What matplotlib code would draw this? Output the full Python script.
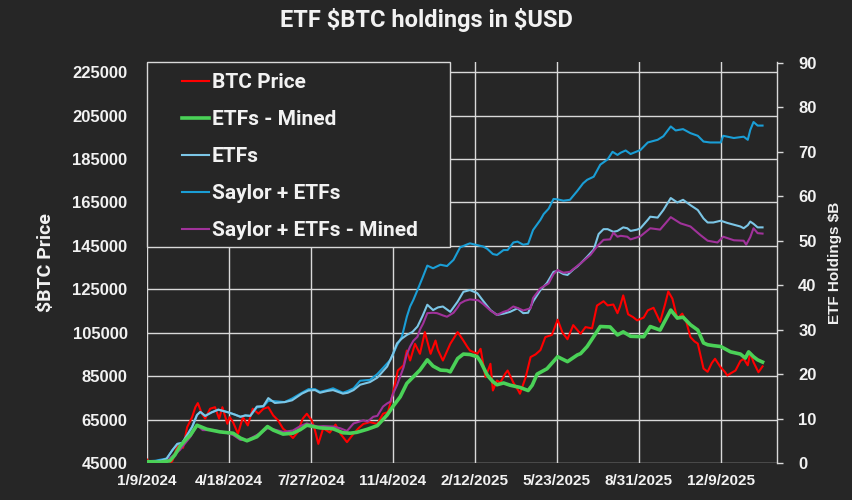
import datetime as dt
import matplotlib.pyplot as plt
from matplotlib.lines import Line2D
from matplotlib.patches import Rectangle

start = dt.date(2024, 1, 9)

# (days since 1/9/2024, value)
btc_price = [
    (0, 46600), (6, 44000), (12, 41500), (18, 40000), (24, 43000), (31, 46000),
    (38, 53800), (44, 52000), (49, 61500), (55, 66100), (59, 70700), (62, 72600),
    (67, 67700), (71, 65400), (77, 70000), (83, 70700), (88, 65400), (92, 70700),
    (98, 63100), (101, 66100), (105, 63800), (111, 58500), (117, 66100), (123, 62300),
    (129, 70000), (136, 67700), (142, 70000), (148, 70700), (154, 66900), (160, 64600),
    (166, 60800), (172, 59000), (178, 56500), (184, 59200), (190, 65400), (195, 67700),
    (201, 64600), (205, 60000), (209, 53800), (215, 61000), (223, 59000), (230, 62700),
    (236, 58500), (244, 54600), (252, 58500), (258, 61000), (264, 63000), (272, 63800),
    (281, 63000), (288, 67700), (294, 68500), (300, 76900), (306, 87600), (313, 90000),
    (317, 96800), (321, 92200), (327, 99900), (333, 95300), (339, 105300), (346, 95300),
    (352, 101400), (355, 97000), (361, 92200), (370, 99900), (379, 105300), (386, 101400),
    (391, 98400), (394, 96800), (403, 95300), (407, 97600), (413, 84500), (419, 90700),
    (422, 78400), (427, 83000), (431, 82000), (437, 86100), (440, 87600), (447, 82000),
    (453, 78400), (455, 76900), (462, 84500), (468, 93800), (474, 95000), (480, 97000),
    (486, 103000), (494, 104000), (501, 111000), (507, 105000), (513, 102000), (520, 108500),
    (529, 104500), (535, 107600), (543, 107000), (549, 117500), (557, 119500), (562, 117600),
    (569, 118000), (574, 114000), (577, 117000), (581, 122200), (587, 113500), (593, 112200),
    (598, 110700), (606, 112000), (611, 115300), (618, 116500), (626, 110000), (632, 118000),
    (636, 124000), (641, 120700), (647, 111500), (653, 113800), (658, 110000), (663, 103000),
    (668, 101000), (672, 100000), (679, 88500), (684, 87000), (689, 91000), (693, 93000),
    (700, 89000), (705, 87000), (708, 85300), (713, 86500), (718, 87600), (724, 92000),
    (728, 93000), (733, 90000), (736, 95800), (740, 91400), (746, 86800), (751, 89500),
]

etfs_mined = [
    (0, 0.3), (16, 0.2), (28, 0.5), (34, 1.8), (40, 3.7), (46, 5.0), (53, 6.3), (61, 8.5),
    (73, 7.6), (89, 7.0), (105, 6.7), (114, 5.6), (122, 5.0), (134, 5.9), (147, 8.2),
    (154, 7.4), (166, 6.5), (178, 6.7), (187, 7.5), (195, 8.5), (211, 7.9), (227, 7.7),
    (239, 6.8), (248, 6.7), (256, 6.9), (269, 7.6), (281, 8.4), (293, 10.8), (300, 12.7),
    (309, 14.9), (317, 17.9), (325, 19.4), (333, 20.9), (342, 23.2), (349, 21.8), (358, 20.9),
    (366, 20.8), (370, 20.5), (379, 23.5), (386, 24.5), (394, 24.4), (403, 23.9), (407, 22.8),
    (415, 19.8), (422, 18.3), (427, 17.6), (435, 18.0), (443, 17.5), (455, 17.0), (465, 16.3),
    (470, 17.5), (476, 20.0), (488, 21.2), (501, 23.9), (513, 22.8), (525, 24.3), (529, 24.6),
    (537, 26.2), (547, 29.0), (553, 30.7), (565, 30.6), (574, 28.8), (581, 29.5), (590, 28.5),
    (606, 28.4), (614, 30.7), (626, 29.9), (639, 34.4), (647, 32.6), (654, 32.8), (663, 31.1),
    (672, 29.9), (679, 27.0), (684, 26.6), (691, 26.4), (700, 26.2), (712, 25.0), (724, 24.5),
    (730, 23.6), (734, 25.0), (740, 23.9), (745, 23.2), (751, 22.7),
]

etfs = [
    (0, 0.3), (10, 0.4), (18, 0.6), (24, 1.0), (31, 2.9), (37, 4.3), (43, 4.5), (49, 6.3),
    (55, 8.1), (61, 10.8), (65, 11.5), (71, 10.6), (79, 11.4), (87, 12.0), (99, 11.4),
    (107, 10.9), (114, 10.4), (120, 10.7), (126, 10.6), (134, 12.7), (142, 12.8), (148, 14.6),
    (156, 13.5), (168, 13.7), (177, 14.1), (189, 15.6), (197, 16.3), (205, 16.4), (211, 15.8),
    (220, 16.2), (227, 16.4), (239, 15.6), (245, 15.8), (252, 16.4), (260, 17.6), (272, 18.2),
    (281, 19.2), (293, 21.7), (300, 24.5), (305, 26.9), (311, 28.0), (317, 28.8), (324, 29.5),
    (330, 30.7), (336, 33.0), (342, 35.6), (349, 34.4), (355, 35.0), (361, 35.2), (370, 34.0),
    (379, 36.3), (386, 38.5), (394, 38.9), (403, 38.2), (410, 36.5), (419, 34.4), (427, 33.3),
    (435, 33.6), (443, 34.0), (452, 34.8), (459, 33.7), (465, 33.8), (471, 36.3), (480, 38.9),
    (488, 40.5), (496, 43.0), (501, 43.2), (508, 42.5), (513, 42.3), (520, 43.5), (525, 44.2),
    (529, 44.9), (537, 46.4), (545, 48.0), (551, 51.5), (557, 52.6), (562, 52.6), (569, 52.0),
    (574, 52.2), (581, 53.0), (586, 52.8), (590, 52.2), (598, 52.5), (602, 52.8), (611, 54.7),
    (614, 55.4), (623, 55.2), (630, 56.9), (639, 59.6), (647, 58.6), (654, 59.2), (663, 58.0),
    (672, 56.9), (679, 55.0), (684, 54.1), (691, 54.1), (700, 54.5), (708, 54.0), (716, 53.6),
    (724, 53.2), (728, 52.8), (733, 53.5), (736, 54.3), (740, 53.8), (745, 53.0), (751, 53.0),
]

saylor_etfs = [
    (0, 0.4), (10, 0.5), (18, 0.8), (24, 1.0), (31, 2.9), (37, 4.3), (43, 4.5), (49, 6.3),
    (55, 8.1), (61, 10.8), (65, 11.5), (71, 10.6), (79, 11.4), (87, 12.0), (99, 11.4),
    (107, 10.9), (114, 10.4), (120, 10.7), (126, 10.6), (134, 12.5), (142, 12.7), (148, 14.0),
    (156, 13.9), (168, 13.7), (177, 14.5), (189, 15.8), (197, 16.6), (205, 16.6), (211, 16.0),
    (220, 16.4), (227, 16.8), (239, 15.8), (245, 16.2), (252, 16.8), (260, 18.5), (272, 18.7),
    (281, 20.0), (291, 22.0), (297, 23.2), (305, 26.5), (311, 28.4), (317, 32.9), (321, 35.2),
    (325, 36.7), (330, 38.9), (336, 41.6), (342, 44.4), (349, 43.8), (358, 44.6), (366, 44.3),
    (374, 45.7), (382, 48.5), (391, 49.2), (394, 49.4), (403, 49.0), (410, 48.7), (415, 48.2),
    (422, 47.0), (427, 46.8), (435, 47.9), (440, 47.9), (447, 49.6), (452, 49.8), (459, 49.1),
    (465, 49.3), (471, 52.4), (480, 54.7), (484, 56.0), (490, 57.2), (496, 59.4), (501, 59.3),
    (508, 59.0), (516, 59.2), (525, 61.2), (532, 62.9), (537, 63.7), (545, 64.4), (553, 67.1),
    (562, 68.3), (568, 70.0), (574, 69.3), (578, 69.8), (584, 70.3), (590, 69.5), (602, 70.4),
    (611, 72.1), (623, 72.7), (630, 73.5), (639, 75.7), (645, 74.8), (654, 75.1), (663, 74.2),
    (672, 73.6), (679, 72.3), (687, 72.1), (700, 72.1), (703, 73.6), (716, 73.1), (728, 73.4),
    (733, 72.7), (736, 74.9), (740, 76.7), (745, 75.9), (751, 75.9),
]

saylor_etfs_mined = [
    (0, 0.4), (16, 0.2), (24, 0.2), (28, 1.1), (40, 2.9), (46, 4.3), (53, 5.9), (61, 8.5),
    (68, 7.4), (81, 7.4), (93, 7.0), (105, 6.3), (114, 5.2), (122, 5.2), (129, 5.8),
    (138, 6.7), (147, 7.8), (154, 7.6), (166, 7.0), (178, 7.3), (187, 8.3), (195, 8.9),
    (208, 8.2), (215, 8.3), (227, 8.2), (236, 7.8), (244, 7.2), (252, 8.9), (264, 9.6),
    (269, 9.3), (276, 10.4), (281, 10.6), (288, 12.7), (293, 13.4), (297, 13.8), (300, 15.5),
    (305, 17.5), (309, 19.5), (313, 21.5), (317, 24.5), (321, 26.2), (325, 27.5), (330, 28.4),
    (333, 30.0), (337, 31.4), (342, 33.7), (349, 33.8), (354, 33.7), (361, 33.2), (366, 32.9),
    (374, 33.8), (379, 35.0), (382, 35.9), (388, 36.5), (394, 36.8), (404, 36.6), (410, 35.8),
    (419, 34.3), (427, 33.3), (435, 34.0), (440, 34.3), (447, 35.2), (453, 34.8), (459, 34.3),
    (468, 34.8), (471, 37.1), (480, 39.3), (490, 40.4), (496, 42.5), (501, 43.4), (508, 42.8),
    (516, 43.0), (529, 44.9), (541, 46.8), (549, 48.7), (557, 50.2), (565, 50.3), (569, 51.8),
    (574, 50.9), (578, 51.1), (586, 50.9), (590, 50.3), (602, 51.0), (614, 52.8), (626, 52.5),
    (639, 55.3), (651, 53.9), (663, 53.2), (675, 51.3), (684, 50.0), (696, 49.6), (703, 50.9),
    (716, 50.1), (728, 50.0), (731, 49.1), (736, 50.8), (740, 52.8), (745, 51.7), (751, 51.6),
]

left_ticks = list(range(45000, 225001, 20000))
right_ticks = list(range(0, 91, 10))
x_tick_days = list(range(0, 701, 100))


def unzip(pairs):
    return [start + dt.timedelta(days=d) for d, _ in pairs], [v for _, v in pairs]


BG = '#262626'
GRID = '#d9d9d9'
FG = '#f2f2f2'
TXT_FONT = ['Roboto', 'DejaVu Sans']
NUM_FONT = ['Liberation Sans', 'DejaVu Sans']

fig = plt.figure(figsize=(8.53, 5.0), dpi=100, facecolor=BG)
ax = fig.add_axes([147 / 853, 1 - 463 / 500, 630.3 / 853, 401 / 500])
ax.set_facecolor(BG)
ax2 = ax.twinx()
ax2.patch.set_visible(False)

styles = {
    'BTC Price': dict(color='#ff0000', lw=1.5),
    'ETFs - Mined': dict(color='#4ad157', lw=2.6),
    'ETFs': dict(color='#7cc6e6', lw=1.5),
    'Saylor + ETFs': dict(color='#1a9ed6', lw=1.5),
    'Saylor + ETFs - Mined': dict(color='#a0329a', lw=1.5),
}

x, y = unzip(btc_price)
ax.plot(x, y, **styles['BTC Price'])
for name, series in [('Saylor + ETFs', saylor_etfs), ('ETFs', etfs),
                     ('Saylor + ETFs - Mined', saylor_etfs_mined),
                     ('ETFs - Mined', etfs_mined)]:
    x, y = unzip(series)
    ax2.plot(x, y, **styles[name])

ax.set_xlim(start, start + dt.timedelta(days=769.6))
ax.set_ylim(45000, 229700)
ax2.set_ylim(0, 90.2)

ax.set_yticks(left_ticks)
ax.set_yticklabels([str(t) for t in left_ticks])
ax2.set_yticks(right_ticks)
xt = [start + dt.timedelta(days=d) for d in x_tick_days]
ax.set_xticks(xt)
ax.set_xticklabels([f'{d.month}/{d.day}/{d.year}' for d in xt])

ax.grid(True, color=GRID, lw=1.0)
ax.set_axisbelow(True)
for a in (ax, ax2):
    for s in a.spines.values():
        s.set_visible(False)
ax2.spines['right'].set_visible(True)
ax2.spines['right'].set_color(GRID)
ax2.spines['right'].set_linewidth(1.0)

ax.tick_params(axis='y', length=0, pad=14, labelcolor=FG)
ax.tick_params(axis='x', length=0, pad=8, labelcolor=FG)
ax2.tick_params(axis='y', length=4, width=1, color=GRID, pad=11, labelcolor=FG)
for lab in ax.get_yticklabels() + ax2.get_yticklabels():
    lab.set_fontfamily(NUM_FONT)
    lab.set_fontsize(12)
    lab.set_fontweight('bold')
for lab in ax.get_xticklabels():
    lab.set_fontfamily(NUM_FONT)
    lab.set_fontsize(11)
    lab.set_fontweight('bold')

ax.set_ylabel('\\$BTC Price', color=FG, fontsize=14, fontweight='bold', family=TXT_FONT)
ax.yaxis.set_label_coords(-0.146, 0.5)
ax2.set_ylabel('ETF Holdings \\$B', color=FG, fontsize=11, fontweight='bold', family=NUM_FONT)
ax2.yaxis.set_label_coords(1.08, 0.5)

fig.text(0.5, 1 - 20 / 500, 'ETF \\$BTC holdings in \\$USD', ha='center', va='center',
         color=FG, fontsize=17, fontweight='bold', family=TXT_FONT)

# legend box
box_w = (450 - 147) / 630.3
box_h = (247 - 62) / 401
ax2.add_patch(Rectangle((0, 1 - box_h), box_w, box_h, transform=ax2.transAxes,
                        facecolor=BG, edgecolor=GRID, lw=1.0, zorder=10, clip_on=False))
order = ['BTC Price', 'ETFs - Mined', 'ETFs', 'Saylor + ETFs', 'Saylor + ETFs - Mined']
handles = [Line2D([], [], **styles[n]) for n in order]
leg = ax2.legend(handles, order, loc='upper left',
                 bbox_to_anchor=(0.037, 1.0), frameon=False,
                 prop={'family': TXT_FONT, 'weight': 'bold', 'size': 15},
                 labelcolor=FG, handlelength=1.3, handletextpad=0.15,
                 labelspacing=0.86, borderpad=0.55, borderaxespad=0)
leg.set_zorder(11)

fig.savefig('out.png', dpi=100, facecolor=BG)
